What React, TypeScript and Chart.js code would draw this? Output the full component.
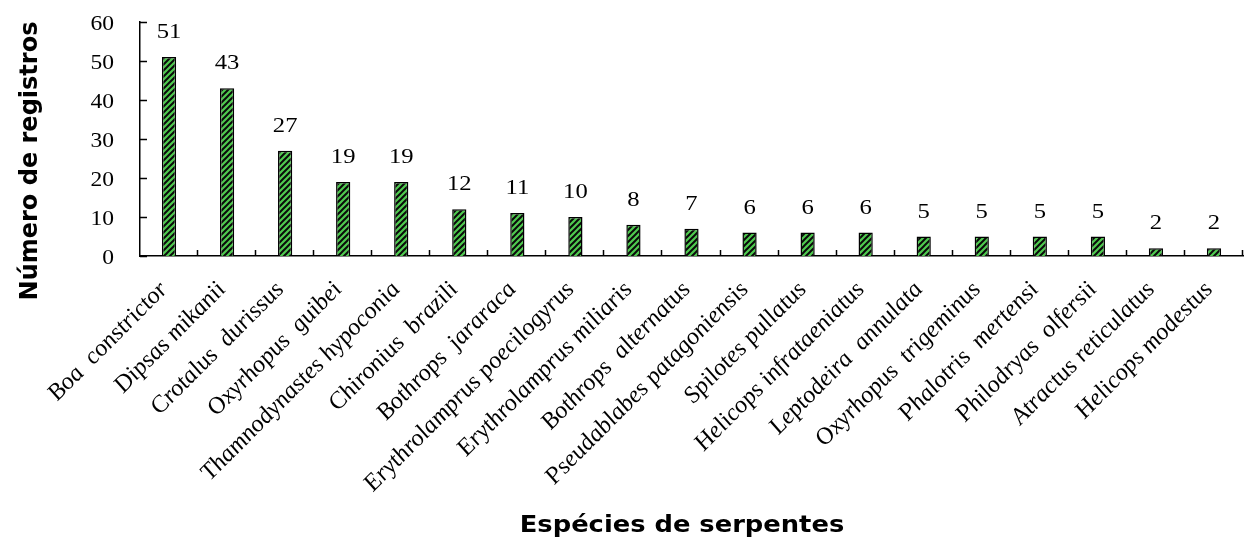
import React, { useEffect, useRef } from "react";
import { Chart, registerables } from "chart.js";

Chart.register(...registerables);

const species: string[] = [
  "Boa  constrictor",
  "Dipsas mikanii",
  "Crotalus  durissus",
  "Oxyrhopus  guibei",
  "Thamnodynastes hypoconia",
  "Chironius  brazili",
  "Bothrops  jararaca",
  "Erythrolamprus poecilogyrus",
  "Erythrolamprus miliaris",
  "Bothrops  alternatus",
  "Pseudablabes patagoniensis",
  "Spilotes pullatus",
  "Helicops infrataeniatus",
  "Leptodeira  annulata",
  "Oxyrhopus  trigeminus",
  "Phalotris  mertensi",
  "Philodryas  olfersii",
  "Atractus reticulatus",
  "Helicops modestus",
];

const records: number[] = [51, 43, 27, 19, 19, 12, 11, 10, 8, 7, 6, 6, 6, 5, 5, 5, 5, 2, 2];

const yTickValues: number[] = [0, 10, 20, 30, 40, 50, 60];

const yTitle = "Número de registros";
const xTitle = "Espécies de serpentes";

const SERIF = "'Liberation Serif', 'Times New Roman', serif";
const SANS = "'DejaVu Sans', Verdana, sans-serif";
// all text is drawn slightly wide
const SX = 1.12;

function makeHatch(): CanvasPattern | string {
  const s = 6;
  const c = document.createElement("canvas");
  c.width = s;
  c.height = s;
  const g = c.getContext("2d");
  if (!g) return "#4fca4f";
  g.fillStyle = "#4fca4f";
  g.fillRect(0, 0, s, s);
  g.strokeStyle = "#0a0a0a";
  g.lineWidth = 2;
  g.beginPath();
  g.moveTo(-1, 1);
  g.lineTo(1, -1);
  g.moveTo(0, s);
  g.lineTo(s, 0);
  g.moveTo(s - 1, s + 1);
  g.lineTo(s + 1, s - 1);
  g.stroke();
  const p = g.createPattern(c, "repeat");
  return p || "#4fca4f";
}

function wideText(ctx: CanvasRenderingContext2D, text: string, x: number, y: number, rot = 0) {
  ctx.save();
  ctx.translate(x, y);
  ctx.scale(SX, 1);
  if (rot) ctx.rotate(rot);
  ctx.fillText(text, 0, 0);
  ctx.restore();
}

const decorPlugin = {
  id: "decor",
  afterDraw(chart: any) {
    const { ctx, chartArea, scales } = chart;
    const xs = scales.x;
    const ys = scales.y;
    ctx.save();
    // inward tick marks on the value axis
    ctx.strokeStyle = "#000";
    ctx.lineWidth = 1.5;
    ctx.beginPath();
    yTickValues.forEach((v) => {
      const y = Math.round(ys.getPixelForValue(v)) + 0.5;
      ctx.moveTo(chartArea.left, y);
      ctx.lineTo(chartArea.left + 7, y);
    });
    // upward tick marks between categories
    const n = species.length;
    const w = (chartArea.right - chartArea.left) / n;
    for (let i = 1; i <= n; i++) {
      const x = Math.round(chartArea.left + i * w) - 0.5;
      ctx.moveTo(x, chartArea.bottom);
      ctx.lineTo(x, chartArea.bottom - 6);
    }
    ctx.stroke();

    ctx.fillStyle = "#000";

    // value axis labels
    ctx.font = `21px ${SERIF}`;
    ctx.textAlign = "right";
    ctx.textBaseline = "middle";
    yTickValues.forEach((v) => {
      wideText(ctx, String(v), 114, ys.getPixelForValue(v) + 2);
    });

    // category labels, slanted
    ctx.font = `italic 23px ${SERIF}`;
    ctx.textAlign = "right";
    ctx.textBaseline = "middle";
    const ang = -Math.atan(SX);
    species.forEach((s, i) => {
      wideText(ctx, s, xs.getPixelForValue(i) - 5, chartArea.bottom + 30, ang);
    });

    // value labels above bars
    ctx.font = `22px ${SERIF}`;
    ctx.textAlign = "center";
    ctx.textBaseline = "alphabetic";
    const meta = chart.getDatasetMeta(0);
    meta.data.forEach((bar: any, i: number) => {
      wideText(ctx, String(records[i]), bar.x, bar.y - 19);
    });

    // axis titles
    ctx.font = `bold 23px ${SANS}`;
    ctx.textAlign = "center";
    ctx.textBaseline = "alphabetic";
    wideText(ctx, xTitle, 682, 532);
    ctx.font = `bold 24px ${SANS}`;
    ctx.translate(37, 161);
    ctx.rotate(-Math.PI / 2);
    ctx.fillText(yTitle, 0, 0);
    ctx.restore();
  },
};

export default function App() {
  const ref = useRef<HTMLCanvasElement | null>(null);

  useEffect(() => {
    const canvas = ref.current;
    if (!canvas) return;
    const chart = new Chart(canvas, {
      type: "bar",
      data: {
        labels: species,
        datasets: [
          {
            data: records,
            backgroundColor: makeHatch() as any,
            borderColor: "#000",
            borderWidth: 1.5,
            categoryPercentage: 1,
            barPercentage: 0.245,
          },
        ],
      },
      options: {
        animation: false,
        responsive: false,
        devicePixelRatio: 1,
        layout: { padding: { top: 22, right: 2, left: 0, bottom: 0 } },
        plugins: {
          legend: { display: false },
          tooltip: { enabled: false },
          title: { display: false },
        },
        scales: {
          x: {
            type: "category",
            offset: true,
            grid: { display: false, drawTicks: false },
            border: { display: true, color: "#000", width: 1.5 },
            ticks: { display: false, autoSkip: false },
            afterFit(scale: any) {
              scale.height = 282;
            },
          },
          y: {
            min: 0,
            max: 60,
            grid: { display: false, drawTicks: false },
            border: { display: true, color: "#000", width: 1.5 },
            ticks: { display: false, stepSize: 10 },
            afterFit(scale: any) {
              scale.width = 140;
            },
          },
        },
      },
      plugins: [decorPlugin],
    });
    return () => chart.destroy();
  }, []);

  return (
    <div style={{ position: "absolute", left: 0, top: 0, width: 1245, height: 538, background: "#fff" }}>
      <canvas ref={ref} width={1245} height={538} />
    </div>
  );
}
